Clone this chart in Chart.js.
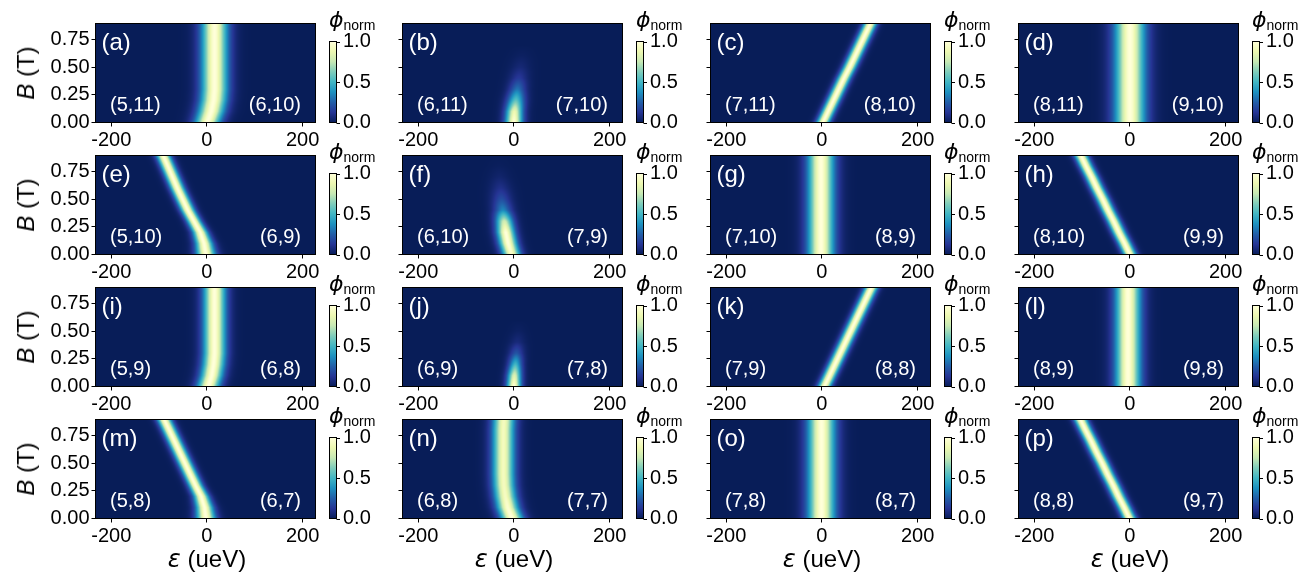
<!DOCTYPE html>
<html><head><meta charset="utf-8">
<script src="https://cdn.jsdelivr.net/npm/chart.js@4.4.1/dist/chart.umd.min.js"></script>
<style>
html,body{margin:0;padding:0;background:#fff;}
body{width:1298px;height:572px;overflow:hidden;position:relative;font-family:'Liberation Sans',Arial,sans-serif;}
canvas{position:absolute;}
.t{position:absolute;color:#000;white-space:nowrap;}
.ytitle{font-size:24px;transform:translate(-50%,-50%) rotate(-90deg);}
.xtitle{font-size:24px;transform:translate(-50%,-50%);}
.math{font-family:'DejaVu Sans',sans-serif;font-style:italic;}
.phi{font-size:22px;line-height:22px;}
.sub{font-size:14px;position:relative;top:3px;font-family:'Liberation Sans',Arial,sans-serif;}
</style></head><body>
<script>
// ---- data ----
const B_T = [0, 0.1, 0.2, 0.3, 0.4, 0.5, 0.6, 0.7, 0.8, 0.9];       // magnetic field samples (T)
const X_TICKS = [-200, 0, 200];
const Y_TICKS = [0, 0.25, 0.5, 0.75];
const CB_TICKS = [0, 0.5, 1.0];
const panelLetters = ['(a)','(b)','(c)','(d)','(e)','(f)','(g)','(h)','(i)','(j)','(k)','(l)','(m)','(n)','(o)','(p)'];
const pairLeft  = ['(5,11)','(6,11)','(7,11)','(8,11)','(5,10)','(6,10)','(7,10)','(8,10)','(5,9)','(6,9)','(7,9)','(8,9)','(5,8)','(6,8)','(7,8)','(8,8)'];
const pairRight = ['(6,10)','(7,10)','(8,10)','(9,10)','(6,9)','(7,9)','(8,9)','(9,9)','(6,8)','(7,8)','(8,8)','(9,8)','(6,7)','(7,7)','(8,7)','(9,7)'];

// ridge centre (ueV), peak phi_norm and half width (ueV) at each B sample
const centerA = [1, 9, 14, 16, 16, 16, 16, 16, 16, 16];
const ampA    = [1, 1, 1, 1, 1, 1, 1, 1, 1, 1];
const widthA  = [25, 26, 26, 26, 26, 26, 26, 26, 26, 26];

const centerB = [0, 1, 4, 7, 10, 13, 16, 18, 20, 20];
const ampB    = [1.0, 0.88, 0.56, 0.3, 0.14, 0.06, 0.02, 0, 0, 0];
const widthB  = [17, 17, 18, 18, 19, 20, 21, 21, 21, 21];

const centerC = [2, 13, 24, 35, 46, 58, 69, 80, 91, 102];
const ampC    = [1, 1, 1, 1, 1, 1, 1, 1, 1, 1];
const widthC  = [13, 13, 13, 13, 13, 13, 13, 13, 13, 13];

const centerD = [0, 0, 0, 0, 0, 0, 0, 0, 0, 0];
const ampD    = [1, 1, 1, 1, 1, 1, 1, 1, 1, 1];
const widthD  = [30, 30, 30, 30, 30, 30, 30, 30, 30, 30];

const centerE = [-2, -6, -14, -27, -40, -51, -62, -72, -82, -92];
const ampE    = [1, 1, 1, 1, 1, 1, 1, 1, 1, 1];
const widthE  = [19, 17, 15, 14, 14, 14, 14, 14, 14, 14];

const centerF = [-5, -12, -17, -20, -23, -26, -28, -30, -31, -32];
const ampF    = [0.95, 1.0, 1.0, 0.78, 0.35, 0.2, 0.1, 0.04, 0.01, 0];
const widthF  = [18, 18, 18, 18, 19, 20, 21, 21, 21, 21];

const centerG = [-2, -2, -2, -2, -2, -2, -2, -2, -2, -2];
const ampG    = [1, 1, 1, 1, 1, 1, 1, 1, 1, 1];
const widthG  = [26, 26, 26, 26, 26, 26, 26, 26, 26, 26];

const centerH = [0, -11, -23, -34, -46, -57, -69, -80, -92, -103];
const ampH    = [1, 1, 1, 1, 1, 1, 1, 1, 1, 1];
const widthH  = [13, 13, 13, 13, 13, 13, 13, 13, 13, 13];

const centerI = [3, 10, 14, 16, 16, 16, 16, 16, 16, 16];
const ampI    = [1, 1, 1, 1, 1, 1, 1, 1, 1, 1];
const widthI  = [22, 22, 22, 22, 22, 22, 22, 22, 22, 22];

const centerJ = [0, 1, 3, 5, 7, 9, 10, 10, 10, 10];
const ampJ    = [1.0, 0.82, 0.5, 0.22, 0.07, 0.02, 0, 0, 0, 0];
const widthJ  = [14, 14, 14, 15, 16, 16, 16, 16, 16, 16];

const centerK = [5, 16, 27, 38, 49, 60, 71, 82, 93, 104];
const ampK    = [1, 1, 1, 1, 1, 1, 1, 1, 1, 1];
const widthK  = [13, 13, 13, 13, 13, 13, 13, 13, 13, 13];

const centerL = [-4, -4, -4, -4, -4, -4, -4, -4, -4, -4];
const ampL    = [1, 1, 1, 1, 1, 1, 1, 1, 1, 1];
const widthL  = [25, 25, 25, 25, 25, 25, 25, 25, 25, 25];

const centerM = [-2, -5, -12, -24, -35, -46, -57, -68, -79, -90];
const ampM    = [1, 1, 1, 1, 1, 1, 1, 1, 1, 1];
const widthM  = [19, 17, 15, 14, 14, 14, 14, 14, 14, 14];

const centerN = [-4, -13, -18, -21, -22, -22, -22, -22, -22, -21];
const ampN    = [1, 0.97, 0.93, 0.92, 0.92, 0.92, 0.92, 0.92, 0.92, 0.92];
const widthN  = [22, 22, 22, 22, 22, 22, 22, 22, 22, 22];

const centerO = [-1, -1, -1, -1, -1, -1, -1, -1, -1, -1];
const ampO    = [1, 1, 1, 1, 1, 1, 1, 1, 1, 1];
const widthO  = [27, 27, 27, 27, 27, 27, 27, 27, 27, 27];

const centerP = [-1, -12, -24, -35, -47, -58, -70, -81, -93, -104];
const ampP    = [1, 1, 1, 1, 1, 1, 1, 1, 1, 1];
const widthP  = [13, 13, 13, 13, 13, 13, 13, 13, 13, 13];

// ---- styling / layout ----
const PROFILE_EXP = 1.8;
const YLGNBU_R = ['#081d58','#253494','#225ea8','#1d91c0','#41b6c4','#7fcdbb','#c7e9b4','#edf8b1','#ffffd9'];
const COL_LEFT = [0, 307, 615, 923];
const ROW_TOP = [0, 132, 264, 396];
const CANVAS_W = 375;

const ridges = [
  [centerA, ampA, widthA], [centerB, ampB, widthB], [centerC, ampC, widthC], [centerD, ampD, widthD],
  [centerE, ampE, widthE], [centerF, ampF, widthF], [centerG, ampG, widthG], [centerH, ampH, widthH],
  [centerI, ampI, widthI], [centerJ, ampJ, widthJ], [centerK, ampK, widthK], [centerL, ampL, widthL],
  [centerM, ampM, widthM], [centerN, ampN, widthN], [centerO, ampO, widthO], [centerP, ampP, widthP]
];

const CM = YLGNBU_R.map(h => [parseInt(h.slice(1,3),16), parseInt(h.slice(3,5),16), parseInt(h.slice(5,7),16)]);
function cmap(v) {
  v = Math.max(0, Math.min(1, v));
  const t = v * (CM.length - 1);
  const i = Math.min(CM.length - 2, Math.floor(t));
  const f = t - i;
  return [0,1,2].map(k => CM[i][k] + (CM[i+1][k] - CM[i][k]) * f);
}
function interpRidge(pts, B) {
  if (B <= pts[0].y) return pts[0];
  for (let i = 0; i < pts.length - 1; i++) {
    const p = pts[i], q = pts[i+1];
    if (B <= q.y) {
      const f = (B - p.y) / (q.y - p.y);
      return {x: p.x + (q.x - p.x) * f, amp: p.amp + (q.amp - p.amp) * f, w: p.w + (q.w - p.w) * f};
    }
  }
  return pts[pts.length - 1];
}
function noPad(s) { s.paddingTop = 0; s.paddingBottom = 0; s.paddingLeft = 0; s.paddingRight = 0; }

const heatmapPlugin = {
  id: 'heatmap',
  beforeDatasetsDraw(chart) {
    const {ctx, chartArea: ca, scales} = chart;
    const xs = scales.x, ys = scales.y;
    const pts = chart.data.datasets[0].data;
    const x0 = Math.floor(ca.left), y0 = Math.floor(ca.top);
    const w = Math.ceil(ca.right) - x0, h = Math.ceil(ca.bottom) - y0;
    const off = document.createElement('canvas');
    off.width = w; off.height = h;
    const octx = off.getContext('2d');
    const img = octx.createImageData(w, h);
    const eps = [];
    for (let i = 0; i < w; i++) eps.push(xs.getValueForPixel(x0 + i + 0.5));
    for (let j = 0; j < h; j++) {
      const B = ys.getValueForPixel(y0 + j + 0.5);
      const r = interpRidge(pts, B);
      for (let i = 0; i < w; i++) {
        const d = Math.abs(eps[i] - r.x) / r.w;
        const v = r.amp * Math.exp(-Math.pow(d, PROFILE_EXP));
        const c = cmap(v);
        const o = (j * w + i) * 4;
        img.data[o] = c[0]; img.data[o+1] = c[1]; img.data[o+2] = c[2]; img.data[o+3] = 255;
      }
    }
    octx.putImageData(img, 0, 0);
    ctx.save();
    ctx.beginPath(); ctx.rect(ca.left, ca.top, ca.width, ca.height); ctx.clip();
    ctx.drawImage(off, x0, y0);
    ctx.restore();
  },
  afterDraw(chart, args, opts) {
    const {ctx, chartArea: ca, scales} = chart;
    ctx.save();
    ctx.strokeStyle = '#000'; ctx.lineWidth = 1;
    ctx.strokeRect(ca.left, ca.top, ca.width, ca.height);
    const cb = scales.cb;
    const yTop = cb.getPixelForValue(1), yBot = cb.getPixelForValue(0);
    const bx = ca.right + 14, bw = 7;
    const g = ctx.createLinearGradient(0, yBot, 0, yTop);
    YLGNBU_R.forEach((c, i) => g.addColorStop(i / (YLGNBU_R.length - 1), c));
    ctx.fillStyle = g;
    ctx.fillRect(bx, yTop, bw, yBot - yTop);
    ctx.strokeRect(bx, yTop, bw, yBot - yTop);
    CB_TICKS.forEach(v => {
      const py = Math.round(cb.getPixelForValue(v)) + 0.5;
      ctx.beginPath(); ctx.moveTo(bx + bw, py); ctx.lineTo(bx + bw + 3.5, py); ctx.stroke();
    });
    ctx.fillStyle = '#fff';
    ctx.textBaseline = 'middle';
    ctx.font = "24px 'Liberation Sans', Arial, sans-serif";
    ctx.textAlign = 'left';
    ctx.fillText(opts.letter, ca.left + 6, ca.top + 20);
    ctx.font = "20px 'Liberation Sans', Arial, sans-serif";
    ctx.fillText(opts.left, ca.left + 14.5, ca.top + 82);
    ctx.textAlign = 'right';
    ctx.fillText(opts.right, ca.right - 14.5, ca.top + 82);
    ctx.restore();
  }
};

Chart.defaults.font.family = "'Liberation Sans', Arial, sans-serif";
Chart.defaults.color = '#000';

for (let r = 0; r < 4; r++) {
  for (let c = 0; c < 4; c++) {
    const idx = r * 4 + c;
    const H = r === 3 ? 176 : 150;
    const cv = document.createElement('canvas');
    cv.width = CANVAS_W; cv.height = H;
    cv.style.left = COL_LEFT[c] + 'px'; cv.style.top = ROW_TOP[r] + 'px';
    cv.style.width = CANVAS_W + 'px'; cv.style.height = H + 'px';
    document.body.appendChild(cv);
    const [cen, amp, wid] = ridges[idx];
    const pts = B_T.map((b, i) => ({x: cen[i], y: b, amp: amp[i], w: wid[i]}));
    const tickGrid = {display: true, drawOnChartArea: false, drawTicks: true, tickLength: 4, color: '#000', lineWidth: 1};
    new Chart(cv, {
      type: 'scatter',
      data: {datasets: [{data: pts, pointRadius: 0, pointHoverRadius: 0, showLine: false}]},
      options: {
        responsive: false, animation: false, devicePixelRatio: 1, events: [],
        layout: {padding: {top: 23.5, left: 0, right: 0, bottom: 0}, autoPadding: false},
        plugins: {
          legend: {display: false}, tooltip: {enabled: false},
          heatmap: {letter: panelLetters[idx], left: pairLeft[idx], right: pairRight[idx]}
        },
        scales: {
          x: {
            type: 'linear', position: 'bottom', min: -233, max: 227,
            afterBuildTicks: s => { s.ticks = X_TICKS.map(v => ({value: v})); },
            afterFit: s => { s.height = H - 122.5; noPad(s); },
            grid: tickGrid, border: {display: false},
            ticks: {font: {size: 20}, color: '#000', padding: 2, maxRotation: 0, autoSkip: false,
                    callback: v => String(v)}
          },
          y: {
            type: 'linear', position: 'left', min: 0, max: 0.894,
            afterBuildTicks: s => { s.ticks = Y_TICKS.map(v => ({value: v})); },
            afterFit: s => { s.width = 95.5; noPad(s); },
            grid: tickGrid, border: {display: false},
            ticks: {font: {size: 20}, color: '#000', padding: 2, autoSkip: false,
                    callback: v => (c === 0 ? Number(v).toFixed(2) : '')}
          },
          cb: {
            type: 'linear', axis: 'y', position: 'right', min: 0, max: 99 / 81,
            afterBuildTicks: s => { s.ticks = CB_TICKS.map(v => ({value: v})); },
            afterFit: s => { s.width = CANVAS_W - 315.5; noPad(s); },
            grid: {display: false, drawTicks: false}, border: {display: false},
            ticks: {font: {size: 20}, color: '#000', padding: 27.5, autoSkip: false,
                    callback: v => Number(v).toFixed(1)}
          }
        }
      },
      plugins: [heatmapPlugin]
    });
    const ph = document.createElement('div');
    ph.className = 't phi';
    ph.style.left = (COL_LEFT[c] + 329) + 'px';
    ph.style.top = (ROW_TOP[r] + 9) + 'px';
    ph.innerHTML = '<span class="math">\u03D5</span><span class="sub">norm</span>';
    document.body.appendChild(ph);
  }
  const yt = document.createElement('div');
  yt.className = 't ytitle';
  yt.style.left = '26px';
  yt.style.top = (ROW_TOP[r] + 73) + 'px';
  yt.innerHTML = '<i>B</i> (T)';
  document.body.appendChild(yt);
}
for (let c = 0; c < 4; c++) {
  const xt = document.createElement('div');
  xt.className = 't xtitle';
  xt.style.left = (COL_LEFT[c] + 207) + 'px';
  xt.style.top = '559px';
  xt.innerHTML = '<span class="math">\u03B5</span> (ueV)';
  document.body.appendChild(xt);
}
</script>
</body></html>
